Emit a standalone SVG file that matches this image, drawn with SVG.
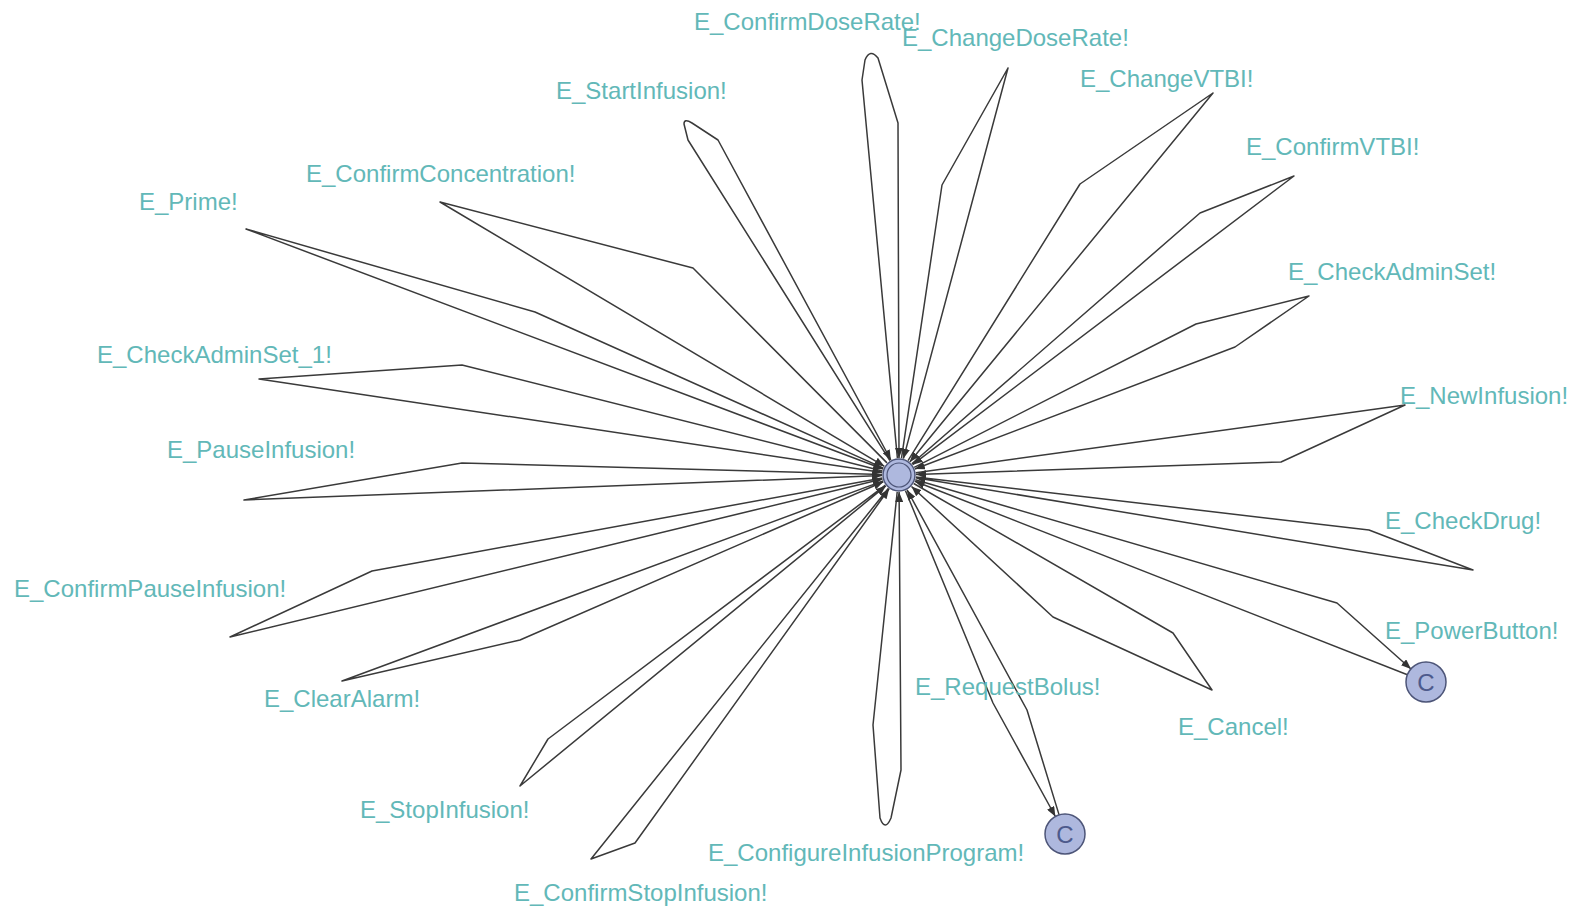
<svg xmlns="http://www.w3.org/2000/svg" width="1576" height="910" viewBox="0 0 1576 910">
<defs>
<marker id="arr" viewBox="0 0 10 8" refX="10" refY="4" markerWidth="10" markerHeight="8" markerUnits="userSpaceOnUse" orient="auto">
<path d="M0,0 L10,4 L0,8 Z" fill="#333"/>
</marker>
<style>
.e{fill:none;stroke:#3a3a3a;stroke-width:1.5;stroke-linejoin:round;marker-end:url(#arr)}
.l{font-family:"Liberation Sans",Arial,sans-serif;font-size:24px;fill:#62b8b8}
.loc{fill:#aeb8de;stroke:#4d5578;stroke-width:1.5}
.ct{font-family:"Liberation Sans",Arial,sans-serif;font-size:24px;fill:#4d5a8c;text-anchor:middle}
</style>
</defs>
<rect width="1576" height="910" fill="#ffffff"/>
<g id="connectors">
<path class="e" d="M883.5,468.1 L535,312 L246,229 L883.1,469"/>
<path class="e" d="M887,462.9 L693,268 L440,202 L884.4,466.3"/>
<path class="e" d="M889.9,460.6 L688,140 L684,124 Q684,118 692,123 L718,140 L890.9,460"/>
<path class="e" d="M897.4,458.1 L862,80 L865,60 Q870,48 878,58 L898,123 L899,458"/>
<path class="e" d="M901.5,458.2 L942,185 L1008,68 L903.4,458.6"/>
<path class="e" d="M908,460.6 L1080,184 L1213,93 L909.8,461.9"/>
<path class="e" d="M911.8,463.8 L1200,213 L1294,176 L912.6,464.7"/>
<path class="e" d="M914.2,467.3 L1196,324 L1309,296 L1235,347 L914.9,469"/>
<path class="e" d="M915.8,472.7 L1405,405 L1281,462 L916,474.4"/>
<path class="e" d="M915.9,477 L1369,530 L1473,570 L915.8,477.8"/>
<path class="e" d="M915.3,479.8 L1337,603 L1411,669"/>
<path class="e" d="M1407.4,674.7 L914.8,481.2"/>
<path class="e" d="M913.7,483.5 L1173,633 L1212,690 L1053,617 L911.5,486.5"/>
<path class="e" d="M905.5,490.7 L993,703 L1055.4,816.5"/>
<path class="e" d="M1059.1,814.9 L1027,710 L907.1,489.9"/>
<path class="e" d="M897.2,491.9 L873,725 L880,818 Q885,832 891,818 L901,770 L899.1,492"/>
<path class="e" d="M888.4,488.3 L591,859 L635,843 L889.1,488.8"/>
<path class="e" d="M885.4,485.2 L548,739 L520,786 L885.9,485.8"/>
<path class="e" d="M883.1,480.9 L342,681 L520,640 L883.4,481.8"/>
<path class="e" d="M882.3,478 L372,571 L230,637 L882.5,479"/>
<path class="e" d="M882,474.5 L462,463 L244,500 L882,475.6"/>
<path class="e" d="M882.5,470.9 L462,365 L259,379 L882.2,472.5"/>
</g>
<g id="labels">
<text class="l" x="694" y="30">E_ConfirmDoseRate!</text>
<text class="l" x="902" y="46">E_ChangeDoseRate!</text>
<text class="l" x="556" y="99">E_StartInfusion!</text>
<text class="l" x="1080" y="87">E_ChangeVTBI!</text>
<text class="l" x="1246" y="155">E_ConfirmVTBI!</text>
<text class="l" x="306" y="182">E_ConfirmConcentration!</text>
<text class="l" x="139" y="210">E_Prime!</text>
<text class="l" x="1288" y="280">E_CheckAdminSet!</text>
<text class="l" x="97" y="363">E_CheckAdminSet_1!</text>
<text class="l" x="1400" y="404">E_NewInfusion!</text>
<text class="l" x="167" y="458">E_PauseInfusion!</text>
<text class="l" x="1385" y="529">E_CheckDrug!</text>
<text class="l" x="14" y="597">E_ConfirmPauseInfusion!</text>
<text class="l" x="1385" y="639">E_PowerButton!</text>
<text class="l" x="915" y="695">E_RequestBolus!</text>
<text class="l" x="264" y="707">E_ClearAlarm!</text>
<text class="l" x="1178" y="735">E_Cancel!</text>
<text class="l" x="360" y="818">E_StopInfusion!</text>
<text class="l" x="708" y="861">E_ConfigureInfusionProgram!</text>
<text class="l" x="514" y="901">E_ConfirmStopInfusion!</text>
</g>
<g id="init">
<circle class="loc" cx="899" cy="475" r="16"/>
<circle cx="899" cy="475" r="12" fill="none" stroke="#4d5578" stroke-width="1.2"/>
</g>
<g id="committed1">
<circle class="loc" cx="1426" cy="682" r="20"/>
<text class="ct" x="1426" y="691">C</text>
</g>
<g id="committed2">
<circle class="loc" cx="1065" cy="834" r="20"/>
<text class="ct" x="1065" y="843">C</text>
</g>
</svg>
